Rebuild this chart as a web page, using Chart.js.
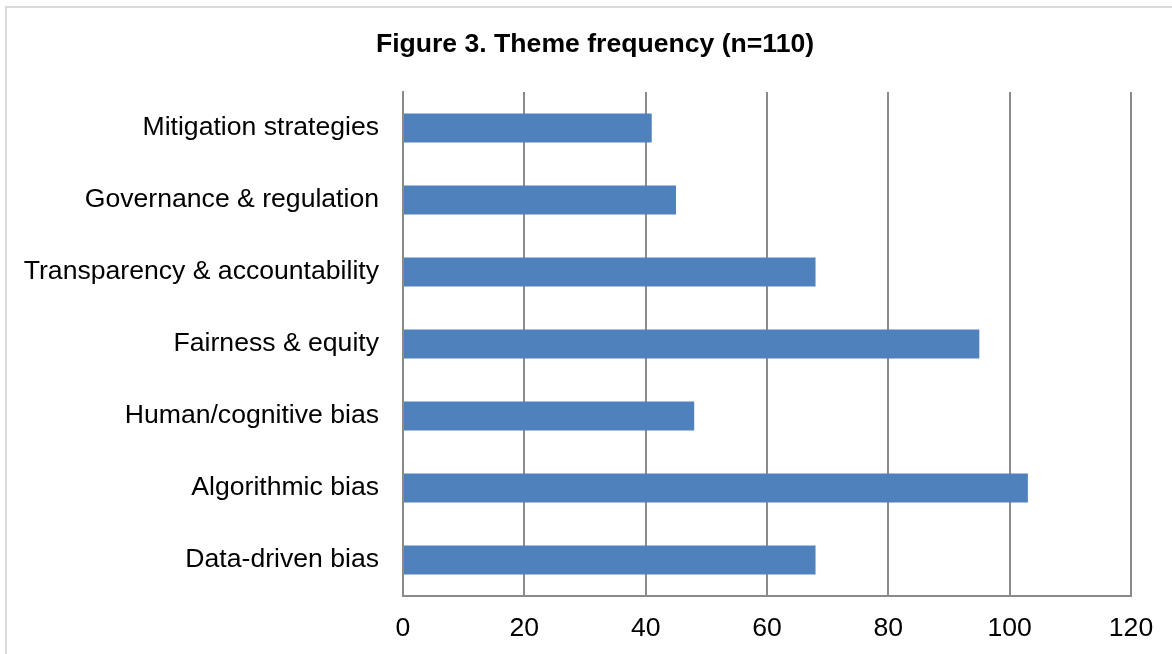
<!DOCTYPE html>
<html>
<head>
<meta charset="utf-8">
<script src="https://cdn.jsdelivr.net/npm/chart.js@4/dist/chart.umd.min.js"></script>
<style>
  html, body { margin: 0; padding: 0; background: #ffffff; overflow: hidden; }
  #frame {
    position: absolute; left: 5px; top: 6px; width: 1400px; height: 900px;
    border: 2px solid #d9d9d9; box-sizing: border-box;
  }
  #wrap { position: absolute; left: 0; top: 0; width: 1172px; height: 654px; }
</style>
</head>
<body>
<div id="frame"></div>
<div id="wrap"><canvas id="chart" width="1172" height="654"></canvas></div>
<script>
// Themes, listed top to bottom
const themes = [
  'Mitigation strategies',
  'Governance & regulation',
  'Transparency & accountability',
  'Fairness & equity',
  'Human/cognitive bias',
  'Algorithmic bias',
  'Data-driven bias'
];
// Number of studies mentioning each theme
const frequency = [41, 45, 68, 95, 48, 103, 68];
// Value axis ticks
const axisTicks = [0, 20, 40, 60, 80, 100, 120];
const chartTitle = 'Figure 3. Theme frequency (n=110)';

const FONT = '"Liberation Sans", Arial, sans-serif';
const SIZE = 26.6;
const GRID = '#8a8a8a';

// Heading centred over the whole figure frame rather than the canvas box
const headingPlugin = {
  id: 'heading',
  afterDraw(chart) {
    const ctx = chart.ctx;
    ctx.save();
    ctx.font = 'bold ' + SIZE + 'px ' + FONT;
    ctx.fillStyle = '#000000';
    ctx.textAlign = 'center';
    ctx.textBaseline = 'middle';
    ctx.fillText(chartTitle, 595, 45);
    ctx.restore();
  }
};

new Chart(document.getElementById('chart'), {
  type: 'bar',
  data: {
    labels: themes,
    datasets: [{
      data: frequency,
      backgroundColor: '#4f81bd',
      borderWidth: 0,
      categoryPercentage: 1,
      barPercentage: 0.4
    }]
  },
  plugins: [headingPlugin],
  options: {
    indexAxis: 'y',
    responsive: false,
    animation: false,
    layout: { padding: { left: 0, right: 41, top: 92, bottom: 0 } },
    plugins: {
      legend: { display: false },
      tooltip: { enabled: false },
      title: { display: false }
    },
    scales: {
      x: {
        min: axisTicks[0],
        max: axisTicks[axisTicks.length - 1],
        afterBuildTicks: s => { s.ticks = axisTicks.map(v => ({ value: v })); },
        afterFit: s => { s.height = 58; },
        grid: { display: true, color: GRID, lineWidth: 2, drawTicks: false },
        border: { display: true, color: GRID, width: 2 },
        ticks: { color: '#000000', font: { family: FONT, size: SIZE }, padding: 17, maxRotation: 0 }
      },
      y: {
        afterFit: s => { s.width = 403; },
        grid: { display: false, drawTicks: false },
        border: { display: true, color: GRID, width: 2 },
        ticks: { color: '#000000', font: { family: FONT, size: SIZE }, padding: 24 }
      }
    }
  }
});
</script>
</body>
</html>
